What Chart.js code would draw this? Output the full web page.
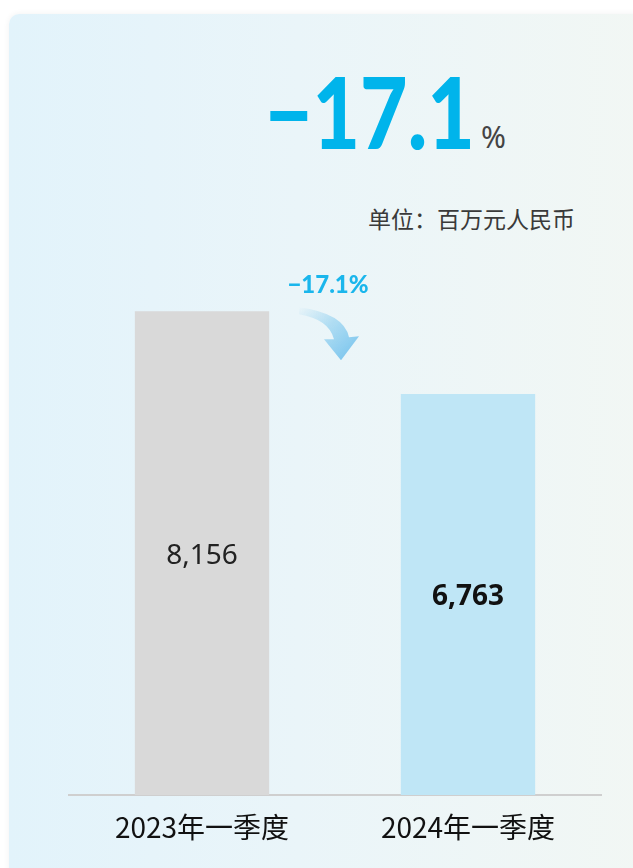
<!DOCTYPE html>
<html><head><meta charset="utf-8">
<script src="https://cdn.jsdelivr.net/npm/chart.js@4.4.1/dist/chart.umd.min.js"></script>
<style>
html,body{margin:0;padding:0;width:633px;height:868px;background:#fff;overflow:hidden;font-family:"Noto Sans CJK SC","Noto Sans",sans-serif;}
#card{position:absolute;left:9px;top:14px;width:640px;height:870px;border-radius:10px;
background:linear-gradient(90deg,#e2f3fb 0%,#eaf5f9 45%,#f2f7f4 100%);box-shadow:0 0 6px rgba(0,0,0,0.06);}
#wrap{position:absolute;left:0;top:0;width:633px;height:868px;}
#big{position:absolute;left:265px;top:60px;font-family:Lato,"Noto Sans",sans-serif;font-weight:900;font-size:100px;color:#00b4eb;line-height:1;letter-spacing:0;white-space:nowrap;transform:scaleX(0.82);transform-origin:0 0;}
#pct{position:absolute;left:481px;top:116px;font-family:"Noto Sans",sans-serif;font-size:30px;color:#444;}
#unit{position:absolute;left:368px;top:205px;font-size:23px;color:#3a3a3a;white-space:nowrap;line-height:1.2;}
</style></head>
<body>
<div id="card"></div>
<div id="big">−17.1</div>
<div id="pct">%</div>
<div id="unit">单位：百万元人民币</div>
<div id="wrap"><canvas id="c" width="633" height="868"></canvas></div>
<script>
const categories = ["2023年一季度", "2024年一季度"];
const values = [8156, 6763];
const valueLabels = ["8,156", "6,763"];
const changeLabel = "−17.1%";

const barColors = ["#d9d9d9", "#bfe6f6"];

const overlay = {
  id: 'overlay',
  afterDatasetsDraw(chart) {
    const ctx = chart.ctx;
    const meta = chart.getDatasetMeta(0);
    ctx.save();
    meta.data.forEach((bar, i) => {
      const y = (bar.y + bar.base) / 2 + 3;
      ctx.font = (i === 1 ? 'bold ' : '') + '28px "Noto Sans", sans-serif';
      ctx.fillStyle = i === 1 ? '#111' : '#222';
      ctx.textAlign = 'center';
      ctx.textBaseline = 'middle';
      ctx.fillText(valueLabels[i], bar.x, y);
    });
    const b0 = meta.data[0], b1 = meta.data[1];
    const midX = ((b0.x + b0.width / 2) + (b1.x - b1.width / 2)) / 2;
    const ty = b0.y - 26;
    ctx.font = '900 24px Lato, "Noto Sans", sans-serif';
    ctx.fillStyle = '#1ab6ec';
    ctx.textAlign = 'center';
    ctx.fillText(changeLabel, midX - 7, ty);
    const ox = midX - 36, oy = b0.y - 4;
    const g = ctx.createLinearGradient(ox, oy, ox + 45, oy + 50);
    g.addColorStop(0, 'rgba(150,210,240,0)');
    g.addColorStop(0.5, 'rgba(150,210,240,0.7)');
    g.addColorStop(1, 'rgba(130,200,238,1)');
    ctx.fillStyle = g;
    ctx.beginPath();
    ctx.moveTo(ox, oy);
    ctx.quadraticCurveTo(ox + 45, oy + 6, ox + 50, oy + 30);
    ctx.lineTo(ox + 60, oy + 29);
    ctx.lineTo(ox + 42, oy + 53);
    ctx.lineTo(ox + 25, oy + 32);
    ctx.lineTo(ox + 35, oy + 32);
    ctx.quadraticCurveTo(ox + 30, oy + 12, ox, oy + 7);
    ctx.closePath();
    ctx.fill();
    ctx.restore();
  }
};

new Chart(document.getElementById('c'), {
  type: 'bar',
  data: {
    labels: categories,
    datasets: [{
      data: values,
      backgroundColor: barColors,
      borderWidth: 0,
      barPercentage: 0.505,
      categoryPercentage: 1
    }]
  },
  options: {
    responsive: false,
    animation: false,
    events: [],
    layout: { padding: { top: 202, left: 69, right: 32, bottom: 0 } },
    plugins: { legend: { display: false }, tooltip: { enabled: false } },
    scales: {
      y: { display: false, min: 0, max: 10000 },
      x: {
        grid: { display: false, drawTicks: false },
        border: { display: true, color: '#cfcfcf', width: 2 },
        ticks: { color: '#111', font: { size: 28, family: '"Noto Sans CJK SC", sans-serif' }, padding: 16 },
        afterFit(s) { s.height = 73; }
      }
    }
  },
  plugins: [overlay]
});
</script>
</body></html>
